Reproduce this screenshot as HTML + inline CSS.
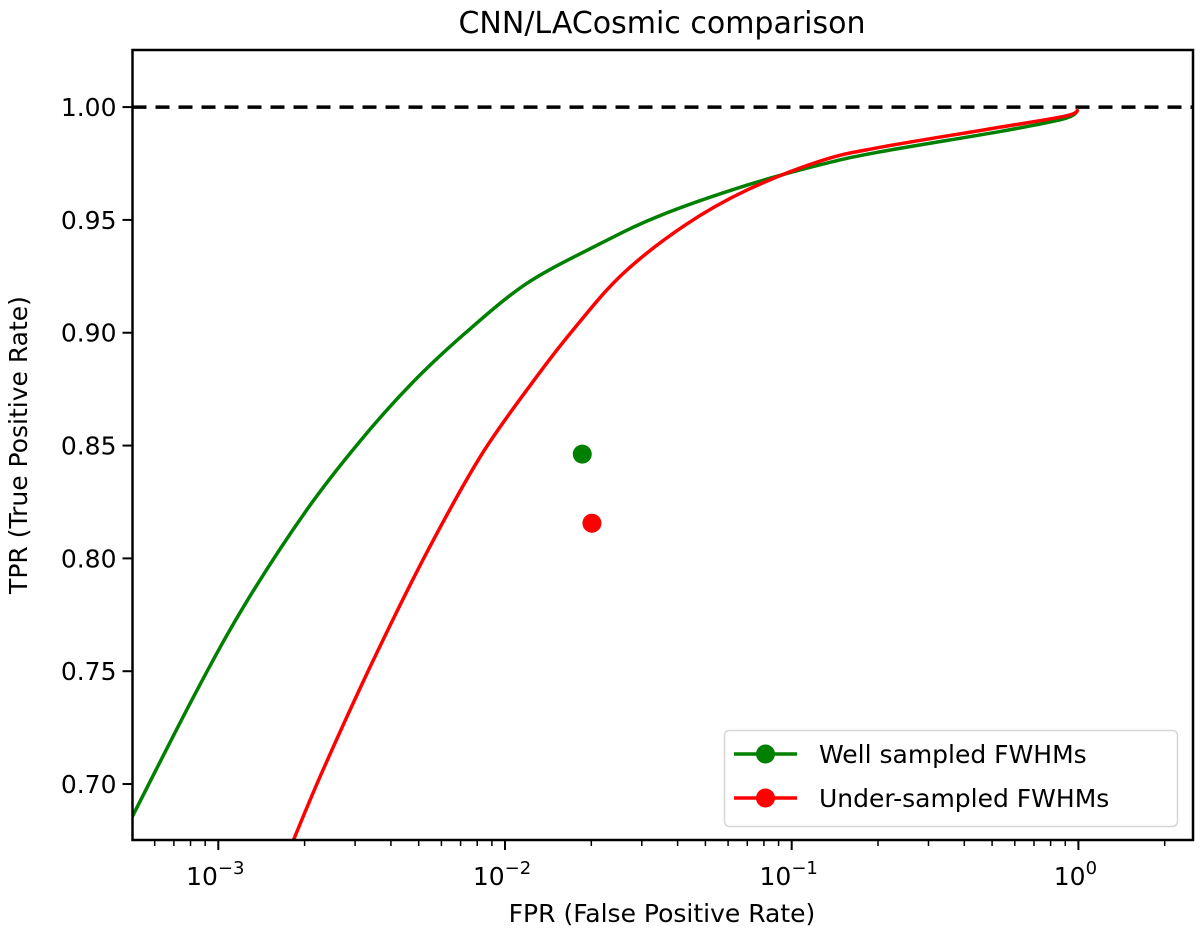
<!DOCTYPE html>
<html><head><meta charset="utf-8"><style>
html,body{margin:0;padding:0;background:#fff;}
svg text{font-family:"DejaVu Sans","Liberation Sans",sans-serif;fill:#000;}
</style></head><body>
<svg id="chart" width="1200" height="938" viewBox="0 0 1200 938" xmlns="http://www.w3.org/2000/svg"></svg>
<script>
const greenFPR = [5.0e-4, 8.36e-4, 1.24e-3, 2.02e-3, 3.10e-3, 4.74e-3, 7.26e-3, 0.0118, 0.0203, 0.0344, 0.0698, 0.1265, 0.2, 0.55, 0.9, 1.0];
const greenTPR = [0.6853, 0.7407, 0.7797, 0.8209, 0.8515, 0.8777, 0.8998, 0.9215, 0.9379, 0.9517, 0.9654, 0.9745, 0.9800, 0.9895, 0.995, 0.999];
const redFPR = [1.82e-3, 2.34e-3, 3.58e-3, 5.48e-3, 8.31e-3, 0.0127, 0.0176, 0.0258, 0.0425, 0.0698, 0.1265, 0.2, 0.5, 0.9, 1.0];
const redTPR = [0.6746, 0.7074, 0.7584, 0.8054, 0.8462, 0.8794, 0.9025, 0.9262, 0.9477, 0.9632, 0.9762, 0.9820, 0.9905, 0.996, 0.999];
const pointFPR = [0.0186, 0.0201];
const pointTPR = [0.8462, 0.8156];
const yTicks = [0.70, 0.75, 0.80, 0.85, 0.90, 0.95, 1.00];
const yTickLabels = ["0.70","0.75","0.80","0.85","0.90","0.95","1.00"];
const xDecades = [-3, -2, -1, 0];

const L=132.5, R=1193, T=50, B=840;
const xMinL=-3+(L-218.3)/286.7, xMaxL=-3+(R-218.3)/286.7;
const yMin=0.6752, yMax=1.0253;
const sx=v=>L+(Math.log10(v)-xMinL)/(xMaxL-xMinL)*(R-L);
const sy=v=>B-(v-yMin)/(yMax-yMin)*(B-T);
const svg=document.getElementById('chart');
const NS='http://www.w3.org/2000/svg';
function mk(tag,attrs,parent){const e=document.createElementNS(NS,tag);for(const k in attrs)e.setAttribute(k,attrs[k]);(parent||svg).appendChild(e);return e;}

const clip=mk('clipPath',{id:'pc'});mk('rect',{x:L,y:T,width:R-L,height:B-T},clip);

const ref=mk('line',{x1:L,x2:R,y1:sy(1),y2:sy(1),stroke:'#000','stroke-width':3.5,'stroke-dasharray':'14 9'});



function curve(xs,ys,color,name){
  const P=xs.map((x,i)=>[sx(x),sy(ys[i])]);
  let d='M'+P[0][0].toFixed(1)+','+P[0][1].toFixed(1);
  for(let i=0;i<P.length-1;i++){
    const p0=P[Math.max(0,i-1)],p1=P[i],p2=P[i+1],p3=P[Math.min(P.length-1,i+2)];
    const c1=[p1[0]+(p2[0]-p0[0])/6,p1[1]+(p2[1]-p0[1])/6];
    const c2=[p2[0]-(p3[0]-p1[0])/6,p2[1]-(p3[1]-p1[1])/6];
    d+=' C'+c1[0].toFixed(1)+','+c1[1].toFixed(1)+' '+c2[0].toFixed(1)+','+c2[1].toFixed(1)+' '+p2[0].toFixed(1)+','+p2[1].toFixed(1);
  }
  const p=mk('path',{d:d,fill:'none',stroke:color,'stroke-width':3.5,'stroke-linejoin':'round','clip-path':'url(#pc)'});
  
  
}
curve(greenFPR,greenTPR,'#008000','well-sampled-roc-curve');
curve(redFPR,redTPR,'#ff0000','under-sampled-roc-curve');

const pc=['#008000','#ff0000'];
const pn=['well-sampled-lacosmic-point','under-sampled-lacosmic-point'];
pointFPR.forEach((x,i)=>{
  const c=mk('circle',{cx:sx(x),cy:sy(pointTPR[i]),r:9.5,fill:pc[i]});
  
  
});

const frame=mk('rect',{x:L,y:T,width:R-L,height:B-T,fill:'none',stroke:'#000','stroke-width':2.5});



yTicks.forEach((v,i)=>{
  const y=sy(v);
  mk('line',{x1:L-10,x2:L,y1:y,y2:y,stroke:'#000','stroke-width':2});
  const t=mk('text',{x:L-16,y:y+9,'text-anchor':'end','font-size':25});
  t.textContent=yTickLabels[i];
  
  
});

for(let d=-4; d<=0; d++){
  for(let m=2;m<=9;m++){
    const v=m*Math.pow(10,d);
    const x=sx(v);
    if(x<L-0.5||x>R+0.5) continue;
    mk('line',{x1:x,x2:x,y1:B,y2:B+6,stroke:'#000','stroke-width':1.5});
  }
}
xDecades.forEach(d=>{
  const x=sx(Math.pow(10,d));
  mk('line',{x1:x,x2:x,y1:B,y2:B+10,stroke:'#000','stroke-width':2});
  const t=mk('text',{x:x-3,y:B+45,'text-anchor':'middle','font-size':25});
  
  
  t.textContent='10';
  const s=mk('tspan',{dy:-11,'font-size':18},t);s.textContent=(d<0?'\u2212'+(-d):''+d);
});

const title=mk('text',{x:662,y:33,'text-anchor':'middle','font-size':30});
title.textContent='CNN/LACosmic comparison';



const xt=mk('text',{x:662,y:922,'text-anchor':'middle','font-size':25});
xt.textContent='FPR (False Positive Rate)';



const yt=mk('text',{x:0,y:0,'text-anchor':'middle','font-size':25,transform:'translate(27,445) rotate(-90)'});
yt.textContent='TPR (True Positive Rate)';



const lg=mk('g',{});


mk('rect',{x:724.5,y:730.5,width:453,height:96,rx:5,fill:'#fff','fill-opacity':0.8,stroke:'#d6d6d6','stroke-width':1.5},lg);
const labels=['Well sampled FWHMs','Under-sampled FWHMs'];
const ey=[754,798];
labels.forEach((lab,i)=>{
  const g=mk('g',{},lg);
  
  
  mk('line',{x1:734,x2:797,y1:ey[i],y2:ey[i],stroke:pc[i],'stroke-width':3.5},g);
  mk('circle',{cx:765.5,cy:ey[i],r:9.5,fill:pc[i]},g);
  const t=mk('text',{x:819,y:ey[i]+9,'font-size':25},g);
  t.textContent=lab;
});
</script>
</body></html>
